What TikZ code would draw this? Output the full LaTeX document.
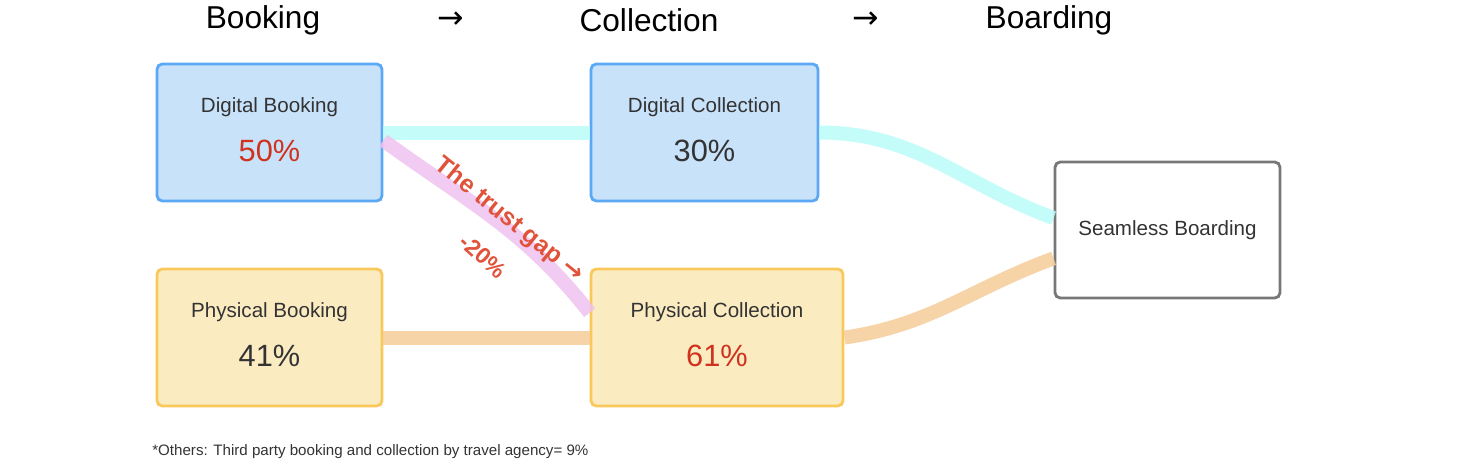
\documentclass[tikz,border=0pt]{standalone}
\usepackage{fontspec}
\setmainfont{Liberation Sans}
\newfontfamily\arrowfont{DejaVu Sans}
\definecolor{txt}{HTML}{333333}
\definecolor{pctred}{HTML}{D0321E}
\definecolor{gapred}{HTML}{E0533A}
\definecolor{bluefill}{HTML}{C8E2FA}
\definecolor{blueline}{HTML}{5BA8F5}
\definecolor{yelfill}{HTML}{FBEBC1}
\definecolor{yelline}{HTML}{F9C85A}
\definecolor{grayline}{HTML}{777777}
\definecolor{cyanflow}{HTML}{B8FBF8}
\definecolor{orangeflow}{HTML}{F5CC98}
\definecolor{pinkflow}{HTML}{F0C2F0}
\begin{document}
\begin{tikzpicture}[
    box/.style={draw,line width=1.6pt,rounded corners=3pt,minimum height=2.74cm,inner sep=0pt},
    digital/.style={box,fill=bluefill,draw=blueline,minimum width=4.5cm},
    physical/.style={box,fill=yelfill,draw=yelline,minimum width=4.5cm},
    lbl/.style={text=txt,font=\fontsize{11.7}{14}\selectfont},
    pct/.style={text=txt,font=\fontsize{17.5}{21}\selectfont},
    head/.style={text=black,font=\fontsize{18}{22}\selectfont},
    flow/.style={line width=0.28cm,opacity=0.85}
  ]
  \useasboundingbox (0,0) rectangle (29.44,9.4);

  % stages
  \node[head] (hbook) at (5.26,9.0) {Booking};
  \node[head] (harr1) at (9.02,9.0) {\arrowfont →};
  \node[head] (hcoll) at (12.98,9.0) {Collection};
  \node[head] (harr2) at (17.32,9.0) {\arrowfont →};
  \node[head] (hboard) at (20.98,9.0) {Boarding};

  % boxes
  \node[digital] (db) at (5.39,6.75) {};
  \node[lbl] (dbl) at (5.39,7.26) {Digital Booking};
  \node[pct,text=pctred] (dbp) at (5.39,6.38) {50\%};

  \node[digital,minimum width=4.54cm] (dc) at (14.09,6.75) {};
  \node[lbl] (dcl) at (14.09,7.26) {Digital Collection};
  \node[pct] (dcp) at (14.09,6.38) {30\%};

  \node[physical] (pb) at (5.39,2.65) {};
  \node[lbl] (pbl) at (5.39,3.16) {Physical Booking};
  \node[pct] (pbp) at (5.39,2.28) {41\%};

  \node[physical,minimum width=5.04cm] (pc) at (14.34,2.65) {};
  \node[lbl] (pcl) at (14.34,3.16) {Physical Collection};
  \node[pct,text=pctred] (pcp) at (14.34,2.28) {61\%};

  \node[box,draw=grayline,fill=white,minimum width=4.5cm,minimum height=2.72cm,
    lbl] (sb) at (23.35,4.8) {Seamless Boarding};

  % flows
  \draw[flow,cyanflow] (db.east) -- (dc.west);
  \draw[flow,cyanflow] (dc.east) to[out=0,in=160] (sb.174);
  \draw[flow,orangeflow] (pb.east) -- (pc.west);
  \draw[flow,orangeflow] (pc.east) to[out=8,in=200] (sb.194);
  \draw[flow,pinkflow] (db.-4) to[out=-36,in=128] (pc.169);

  % trust gap
  \node[text=gapred,font=\bfseries\fontsize{14}{16}\selectfont,rotate=-39]
    (gap) at (10.18,5.0) {The trust gap \arrowfont →};
  \node[text=gapred,font=\bfseries\fontsize{13}{15}\selectfont,rotate=-42]
    (gapv) at (9.66,4.28) {-20\%};

  % note
  \node[anchor=west,text=txt,font=\fontsize{8.6}{10}\selectfont,inner sep=0pt]
    (note) at (3.04,0.36) {*Others: Third party booking and collection by travel agency= 9\%};
\end{tikzpicture}
\end{document}
